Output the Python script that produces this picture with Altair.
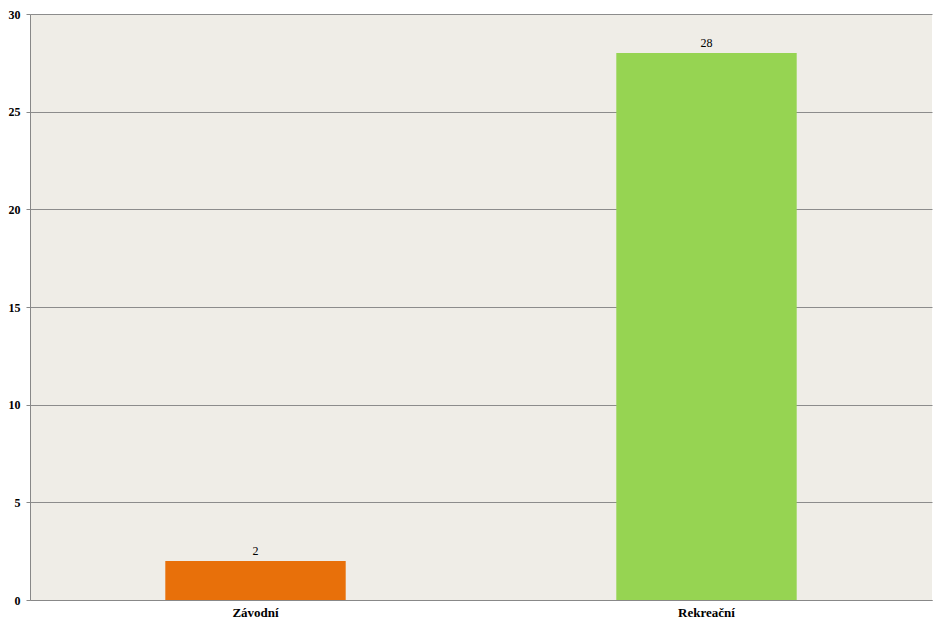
import altair as alt
import pandas as pd

categories = ["Závodní", "Rekreační"]
values = [2, 28]
colors = ["#E8700A", "#96D452"]

df = pd.DataFrame({"cat": categories, "val": values})

SERIF = "Liberation Serif, Times New Roman, serif"

x = alt.X("cat:N", sort=categories,
          scale=alt.Scale(paddingInner=0.6, paddingOuter=0.3),
          axis=alt.Axis(title=None, labelAngle=0, labelFont=SERIF,
                        labelFontWeight="bold", labelFontSize=13, labelColor="#000",
                        ticks=False, domainColor="#888", labelPadding=6))
y = alt.Y("val:Q", scale=alt.Scale(domain=[0, 30]),
          axis=alt.Axis(title=None, values=[0, 5, 10, 15, 20, 25, 30],
                        labelFont=SERIF, labelFontWeight="bold",
                        labelFontSize=12, labelColor="#000",
                        gridColor="#8c8c8c", gridWidth=1, domainColor="#888",
                        tickColor="#888", tickSize=4, labelPadding=6))

bars = alt.Chart(df).mark_bar().encode(
    x=x, y=y,
    color=alt.Color("cat:N", scale=alt.Scale(domain=categories, range=colors), legend=None),
)
text = alt.Chart(df).mark_text(dy=-10, font=SERIF, fontSize=12, color="#000").encode(
    x=alt.X("cat:N", sort=categories), y="val:Q", text="val:Q"
)

chart = (bars + text).properties(
    width=902, height=586,
    background="#FFFFFF",
    autosize=alt.AutoSizeParams(type="none"),
    padding={"left": 22, "top": 6, "right": 6, "bottom": 30},
).configure_view(fill="#EFEDE7", strokeWidth=0)

chart.save("out.html", embed_options={"renderer": "svg", "actions": False})
